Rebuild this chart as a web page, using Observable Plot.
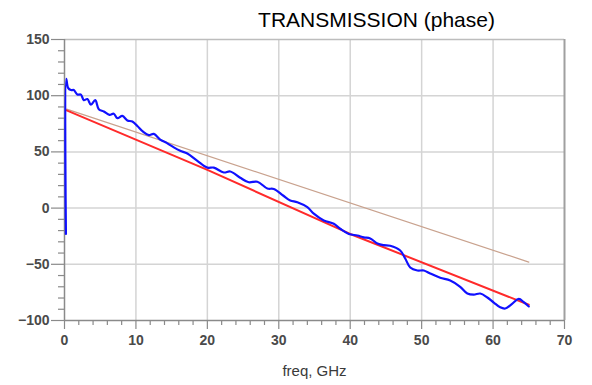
<!DOCTYPE html>
<html>
<head>
<meta charset="utf-8">
<script src="https://cdn.jsdelivr.net/npm/d3@7"></script>
<script src="https://cdn.jsdelivr.net/npm/@observablehq/plot@0.6"></script>
<style>
  html, body { margin: 0; padding: 0; background: #fff; }
  #chart svg { display: block; }
</style>
</head>
<body>
<div id="chart"></div>
<script>
// ---- data ----
const title = "TRANSMISSION (phase)";
const xLabel = "freq, GHz";
const xTicks = [0, 10, 20, 30, 40, 50, 60, 70];
const yTicks = [-100, -50, 0, 50, 100, 150];
const xMinor = [2,4,6,8,12,14,16,18,22,24,26,28,32,34,36,38,42,44,46,48,52,54,56,58,62,64,66,68];
const yMinor = [-90,-80,-70,-60,-40,-30,-20,-10,10,20,30,40,60,70,80,90,110,120,130,140];

// measured transmission phase (blue)
const measFreq = [0.2, 0.25, 0.5, 0.9, 1.3, 1.8, 2.3, 2.7, 3.2, 3.7, 4.3, 4.8, 5.5, 6.3, 6.9, 7.4, 8.1, 8.8, 9.5, 10.2, 11.0, 11.8, 12.5, 13.4, 14.3, 15.3, 16.2, 17.2, 18.6, 20.0, 20.9, 22.3, 23.2, 24.6, 25.8, 27.0, 28.4, 29.3, 30.6, 31.6, 32.6, 34.0, 34.9, 36.3, 37.7, 38.6, 39.8, 41.0, 41.9, 42.8, 43.8, 44.7, 45.6, 47.0, 47.7, 48.4, 49.4, 50.3, 51.2, 52.6, 54.0, 55.4, 56.4, 57.3, 58.2, 59.2, 60.1, 61.0, 61.7, 62.7, 63.6, 64.3, 65.0];
const measPhase = [-23, 115, 107, 105, 105, 101, 101, 96, 97, 92, 96, 88, 86, 83, 84, 80, 82, 78, 77, 73, 68, 65, 66, 61, 58, 54, 51, 48.6, 42, 36, 36, 31.7, 32.6, 27, 23, 23.5, 17.4, 17, 11.2, 6.8, 5.2, 0.8, -5, -11, -14, -18.4, -23, -24.4, -26, -27, -31.5, -33, -33.5, -37.7, -44.8, -52.8, -55.5, -55.5, -58.2, -62, -64.4, -70, -76, -77, -76, -79.5, -84, -88.3, -89.3, -85, -80.7, -83.7, -87.5];

// model (red)
const redFreq = [0.3, 20, 40, 65];
const redPhase = [87, 34, -23, -86];

// reference line (tan)
const tanFreq = [0.3, 65];
const tanPhase = [88, -48];

const toRows = (xs, ys) => xs.map((x, i) => ({x, y: ys[i]}));
const blue = toRows(measFreq, measPhase);
const red = toRows(redFreq, redPhase);
const tan = toRows(tanFreq, tanPhase);

const font = "'Liberation Sans', Arial, Helvetica, sans-serif";
const axisColor = "#8a8a8a";
const tickTextColor = "#4a4a4a";

const chart = Plot.plot({
  width: 592,
  height: 385,
  marginLeft: 64,
  marginRight: 28,
  marginTop: 39,
  marginBottom: 65,
  style: {fontFamily: font, background: "#fff", overflow: "visible"},
  x: {domain: [0, 70], axis: null},
  y: {domain: [-100, 150], axis: null},
  marks: [
    Plot.gridX(xTicks.filter(d => d > 0 && d < 70), {stroke: "#d4d4d4", strokeOpacity: 1, strokeWidth: 1.5}),
    Plot.gridY(yTicks.filter(d => d > -100 && d < 150), {stroke: "#d4d4d4", strokeOpacity: 1, strokeWidth: 1.5}),
    Plot.ruleY([150], {stroke: "#bdbdbd", strokeWidth: 1.5}),
    Plot.ruleX([70], {stroke: "#a0a0a0", strokeWidth: 2}),
    Plot.ruleX([0], {stroke: axisColor, strokeWidth: 1.5}),
    Plot.ruleY([-100], {stroke: axisColor, strokeWidth: 1.5}),
    Plot.axisY(yMinor, {tickSize: 6, tickFormat: () => "", label: null, stroke: axisColor, strokeWidth: 1.2}),
    Plot.axisY(yTicks, {tickSize: 13, tickPadding: 2, label: null, stroke: axisColor, strokeWidth: 1.2, fill: tickTextColor, fontSize: 14, fontWeight: "bold", fontFamily: font}),
    Plot.axisX(xMinor, {tickSize: 5, tickFormat: () => "", label: null, stroke: axisColor, strokeWidth: 1.2}),
    Plot.axisX(xTicks, {tickSize: 9, tickPadding: 6, label: null, stroke: axisColor, strokeWidth: 1.2, fill: tickTextColor, fontSize: 14, fontWeight: "bold", fontFamily: font}),
    Plot.line(tan, {x: "x", y: "y", stroke: "#c9a28e", strokeWidth: 1.3}),
    Plot.line(red, {x: "x", y: "y", stroke: "#ff2a2a", strokeWidth: 2}),
    Plot.line(blue, {x: "x", y: "y", stroke: "#1010ff", strokeWidth: 2.2, strokeLinejoin: "round", curve: "catmull-rom"}),
    Plot.text([title], {frameAnchor: "top", lineAnchor: "middle", dx: 62, dy: -19, fontSize: 21, fill: "#000", fontFamily: font}),
    Plot.text([xLabel], {frameAnchor: "bottom", lineAnchor: "middle", dx: 0, dy: 51, fontSize: 15, fill: "#3a3a3a", fontFamily: font, letterSpacing: "0.6px"})
  ]
});
document.getElementById("chart").appendChild(chart);
</script>
</body>
</html>
